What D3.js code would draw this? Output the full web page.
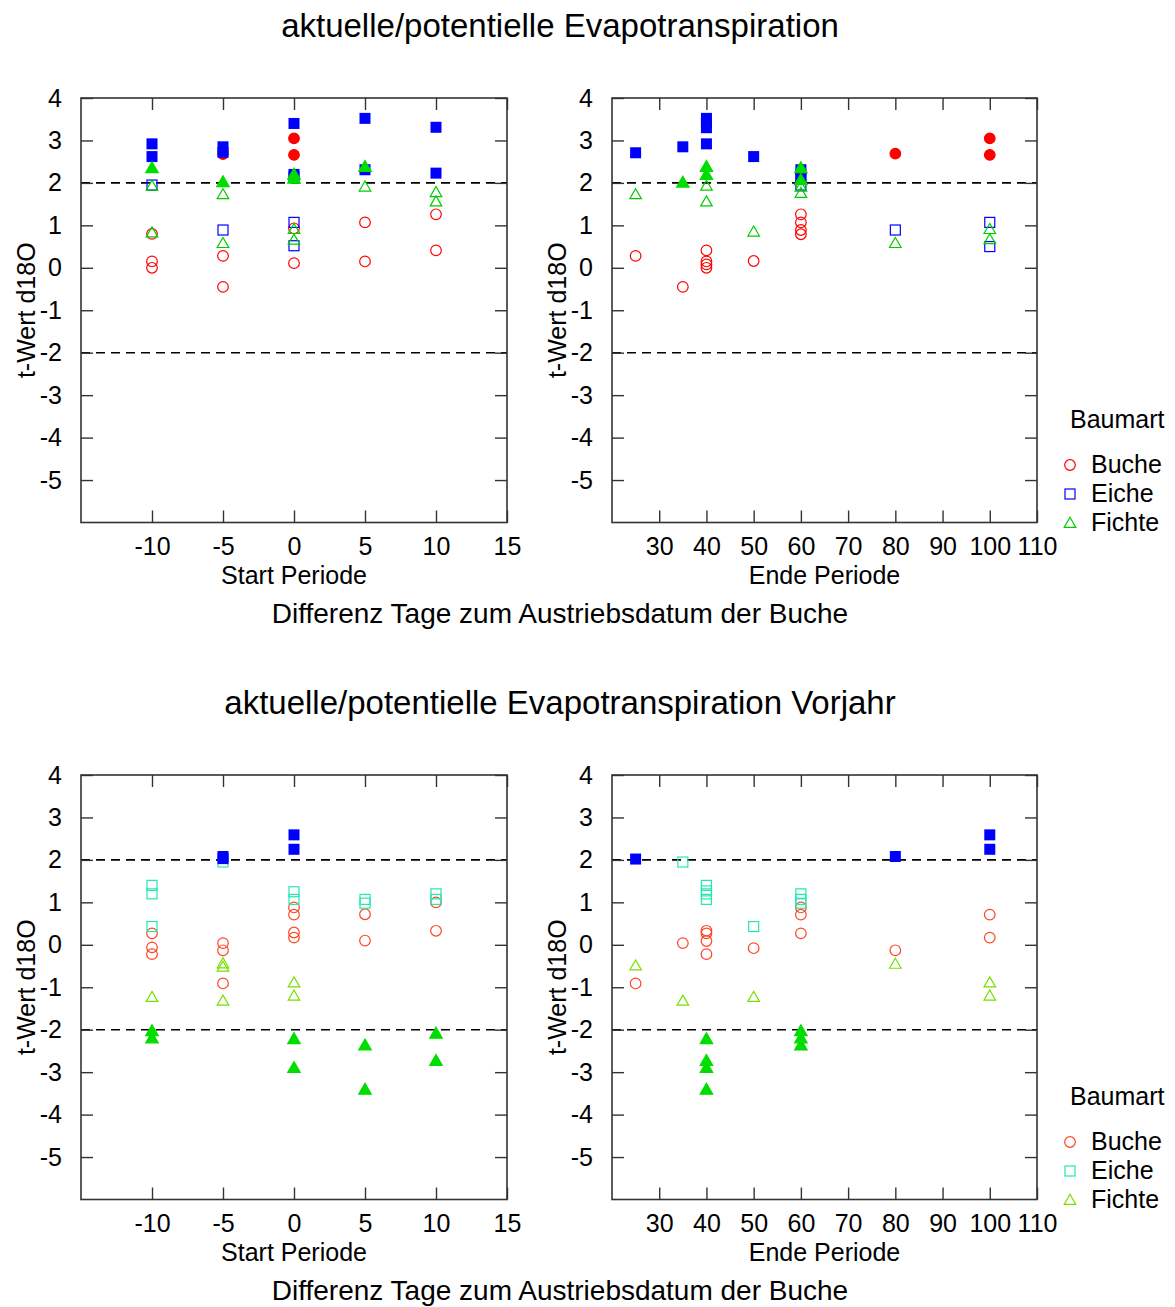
<!DOCTYPE html>
<html>
<head>
<meta charset="utf-8">
<script src="https://cdn.jsdelivr.net/npm/d3@7"></script>
<style>
  body { margin: 0; background: #fff; }
  svg text { font-family: "Liberation Sans", Arial, sans-serif; fill: #000; }
</style>
</head>
<body>
<div id="chart"></div>
<script>
// ===================== DATA =====================
const titles = ["aktuelle/potentielle Evapotranspiration", "aktuelle/potentielle Evapotranspiration Vorjahr"];
const startTicks = [-10, -5, 0, 5, 10, 15];
const endTicks = [30, 40, 50, 60, 70, 80, 90, 100, 110];
const yTicks = [4, 3, 2, 1, 0, -1, -2, -3, -4, -5];
const species = ["Buche", "Eiche", "Fichte"];

// [x, t] pairs, open = not significant, filled = significant
// --- Evapotranspiration, Start Periode
const etStartBucheOpen = [[-10,0.8],[-10,0.15],[-10,0.0],[-5,0.28],[-5,-0.45],[0,0.93],[0,0.11],[5,1.07],[5,0.15],[10,1.26],[10,0.41]];
const etStartBucheFill = [[-5,2.68],[0,3.05],[0,2.66]];
const etStartEicheOpen = [[-10,1.95],[-5,0.89],[0,1.07],[0,0.52]];
const etStartEicheFill = [[-10,2.92],[-10,2.62],[-5,2.85],[-5,2.72],[0,3.4],[0,2.2],[0,2.15],[5,3.52],[5,2.31],[10,3.31],[10,2.23]];
const etStartFichteOpen = [[-10,1.93],[-10,0.83],[-5,1.73],[-5,0.58],[0,0.91],[0,0.66],[5,1.91],[10,1.78],[10,1.56]];
const etStartFichteFill = [[-10,2.35],[-5,2.02],[0,2.2],[0,2.1],[5,2.38]];
// --- Evapotranspiration, Ende Periode
const etEndBucheOpen = [[25,0.28],[35,-0.45],[40,0.41],[40,0.15],[40,0.08],[40,0.0],[50,0.16],[60,1.26],[60,1.07],[60,0.89],[60,0.79]];
const etEndBucheFill = [[80,2.69],[100,3.05],[100,2.66]];
const etEndEicheOpen = [[60,1.95],[80,0.89],[100,1.07],[100,0.5]];
const etEndEicheFill = [[25,2.71],[35,2.85],[40,3.52],[40,3.42],[40,3.3],[40,2.92],[50,2.62],[60,2.31],[60,2.2],[60,2.12]];
const etEndFichteOpen = [[25,1.73],[40,1.93],[40,1.56],[50,0.85],[60,1.91],[60,1.76],[80,0.58],[100,0.91],[100,0.67]];
const etEndFichteFill = [[35,2.01],[40,2.38],[40,2.19],[60,2.35],[60,2.07]];
// --- Vorjahr, Start Periode
const vjStartBucheOpen = [[-10,0.27],[-10,-0.06],[-10,-0.22],[-5,0.04],[-5,-0.13],[-5,-0.91],[0,0.88],[0,0.71],[0,0.29],[0,0.17],[5,0.72],[5,0.1],[10,1.0],[10,0.33]];
const vjStartBucheFill = [];
const vjStartEicheOpen = [[-10,1.4],[-10,1.2],[-10,0.43],[-5,1.95],[0,1.25],[0,1.07],[5,1.07],[5,0.98],[10,1.2],[10,1.07]];
const vjStartEicheFill = [[-5,2.08],[-5,2.03],[0,2.59],[0,2.25]];
const vjStartFichteOpen = [[-10,-1.23],[-5,-0.44],[-5,-0.52],[-5,-1.32],[0,-0.89],[0,-1.2]];
const vjStartFichteFill = [[-10,-2.03],[-10,-2.2],[0,-2.22],[0,-2.9],[5,-2.37],[5,-3.41],[10,-2.09],[10,-2.73]];
// --- Vorjahr, Ende Periode
const vjEndBucheOpen = [[25,-0.91],[35,0.04],[40,0.33],[40,0.27],[40,0.09],[40,-0.22],[50,-0.08],[60,0.88],[60,0.71],[60,0.27],[80,-0.13],[100,0.71],[100,0.17]];
const vjEndBucheFill = [];
const vjEndEicheOpen = [[35,1.95],[40,1.4],[40,1.27],[40,1.2],[40,1.07],[50,0.43],[60,1.2],[60,1.07],[60,0.98]];
const vjEndEicheFill = [[25,2.02],[80,2.08],[100,2.59],[100,2.25]];
const vjEndFichteOpen = [[25,-0.49],[35,-1.32],[50,-1.23],[80,-0.45],[100,-0.89],[100,-1.2]];
const vjEndFichteFill = [[40,-2.22],[40,-2.73],[40,-2.9],[40,-3.41],[60,-2.03],[60,-2.2],[60,-2.37]];

// colours per block
const topColors = { Buche: "#ff0000", Eiche: "#0000ff", Fichte: "#00cc00" };
const topFill   = { Buche: "#ff0000", Eiche: "#0000ff", Fichte: "#00dd00" };
const botColors = { Buche: "#ff4422", Eiche: "#22e8b0", Fichte: "#77e000" };
const botFill   = { Buche: "#ff4422", Eiche: "#0000ff", Fichte: "#00dd00" };

// ===================== CHART =====================
const W = 1175, H = 1307;
const svg = d3.select("#chart").append("svg").attr("width", W).attr("height", H);

const blocks = [
  { top: 98, title: titles[0], colors: topColors, fill: topFill,
    start: [etStartBucheOpen, etStartBucheFill, etStartEicheOpen, etStartEicheFill, etStartFichteOpen, etStartFichteFill],
    end:   [etEndBucheOpen, etEndBucheFill, etEndEicheOpen, etEndEicheFill, etEndFichteOpen, etEndFichteFill] },
  { top: 775, title: titles[1], colors: botColors, fill: botFill,
    start: [vjStartBucheOpen, vjStartBucheFill, vjStartEicheOpen, vjStartEicheFill, vjStartFichteOpen, vjStartFichteFill],
    end:   [vjEndBucheOpen, vjEndBucheFill, vjEndEicheOpen, vjEndEicheFill, vjEndFichteOpen, vjEndFichteFill] }
];

const panelH = 424.5;
const frameColor = "#333";
const fmt = d => String(d); // plain hyphen minus, like the original

function marker(g, sp, x, y, open, color) {
  if (sp === "Buche") {
    g.append("circle").attr("cx", x).attr("cy", y).attr("r", 5.3)
      .attr("fill", open ? "none" : color).attr("stroke", color).attr("stroke-width", 1.2);
  } else if (sp === "Eiche") {
    const s = open ? 10 : 11;
    g.append("rect").attr("x", x - s / 2).attr("y", y - s / 2).attr("width", s).attr("height", s)
      .attr("fill", open ? "none" : color).attr("stroke", open ? color : "none").attr("stroke-width", 1.2);
  } else {
    const sym = d3.symbol().type(d3.symbolTriangle).size(open ? 58 : 68);
    g.append("path").attr("d", sym()).attr("transform", `translate(${x},${y + 1})`)
      .attr("fill", open ? "none" : color).attr("stroke", color).attr("stroke-width", 1.2);
  }
}

function panel(block, left, right, xDomain, xTicks, xLabel, series) {
  const top = block.top, bottom = top + panelH;
  const x = d3.scaleLinear().domain(xDomain).range([left, right]);
  const y = d3.scaleLinear().domain([-6, 4]).range([bottom, top]);
  const g = svg.append("g");

  // dashed reference lines
  [2, -2].forEach(v => {
    g.append("line").attr("x1", left).attr("x2", right).attr("y1", y(v)).attr("y2", y(v))
      .attr("stroke", "#000").attr("stroke-width", 1.6).attr("stroke-dasharray", "9,6");
  });

  // axes with inward ticks on all sides
  const tl = 12;
  g.append("g").attr("transform", `translate(0,${bottom})`)
    .call(d3.axisBottom(x).tickValues(xTicks).tickSize(-tl).tickPadding(tl + 3).tickFormat(fmt))
    .call(a => a.select(".domain").remove())
    .call(a => a.selectAll("line").attr("stroke", frameColor).attr("stroke-width", 1.4))
    .call(a => a.selectAll("text").attr("font-size", 25).attr("font-family", "Liberation Sans, Arial, sans-serif"));
  g.append("g").attr("transform", `translate(0,${top})`)
    .call(d3.axisTop(x).tickValues(xTicks).tickSize(-tl).tickFormat(""))
    .call(a => a.select(".domain").remove())
    .call(a => a.selectAll("line").attr("stroke", frameColor).attr("stroke-width", 1.4));
  g.append("g").attr("transform", `translate(${left},0)`)
    .call(d3.axisLeft(y).tickValues(yTicks).tickSize(-tl).tickPadding(tl + 7).tickFormat(fmt))
    .call(a => a.select(".domain").remove())
    .call(a => a.selectAll("line").attr("stroke", frameColor).attr("stroke-width", 1.4))
    .call(a => a.selectAll("text").attr("font-size", 25).attr("font-family", "Liberation Sans, Arial, sans-serif"));
  g.append("g").attr("transform", `translate(${right},0)`)
    .call(d3.axisRight(y).tickValues(yTicks).tickSize(-tl).tickFormat(""))
    .call(a => a.select(".domain").remove())
    .call(a => a.selectAll("line").attr("stroke", frameColor).attr("stroke-width", 1.4));

  g.append("rect").attr("x", left).attr("y", top).attr("width", right - left).attr("height", bottom - top)
    .attr("fill", "none").attr("stroke", frameColor).attr("stroke-width", 1.6);

  // markers: Buche, Eiche, Fichte; open first then filled
  species.forEach((sp, i) => {
    series[2 * i].forEach(d => marker(g, sp, x(d[0]), y(d[1]), true, block.colors[sp]));
    series[2 * i + 1].forEach(d => marker(g, sp, x(d[0]), y(d[1]), false, block.fill[sp]));
  });

  // labels
  g.append("text").attr("x", (left + right) / 2).attr("y", bottom + 61)
    .attr("text-anchor", "middle").attr("font-size", 25).text(xLabel);
  g.append("text").attr("transform", `translate(${left - 46},${(top + bottom) / 2}) rotate(-90)`)
    .attr("text-anchor", "middle").attr("font-size", 25).text("t-Wert d18O");
}

blocks.forEach(b => {
  svg.append("text").attr("x", 560).attr("y", b.top - 61).attr("text-anchor", "middle")
    .attr("font-size", 33).text(b.title);
  panel(b, 81, 507, [-15, 15], startTicks, "Start Periode", b.start);
  panel(b, 612, 1037, [20, 110], endTicks, "Ende Periode", b.end);
  svg.append("text").attr("x", 560).attr("y", b.top + panelH + 100).attr("text-anchor", "middle")
    .attr("font-size", 28).text("Differenz Tage zum Austriebsdatum der Buche");

  // legend
  const lg = svg.append("g").attr("transform", `translate(0,${b.top + 322})`);
  lg.append("text").attr("x", 1070).attr("y", 8).attr("font-size", 25).text("Baumart");
  species.forEach((sp, i) => {
    const yy = 45 + i * 29;
    marker(lg, sp, 1070, yy, true, b.colors[sp]);
    lg.append("text").attr("x", 1091).attr("y", yy + 8).attr("font-size", 25).text(sp);
  });
});
</script>
</body>
</html>
